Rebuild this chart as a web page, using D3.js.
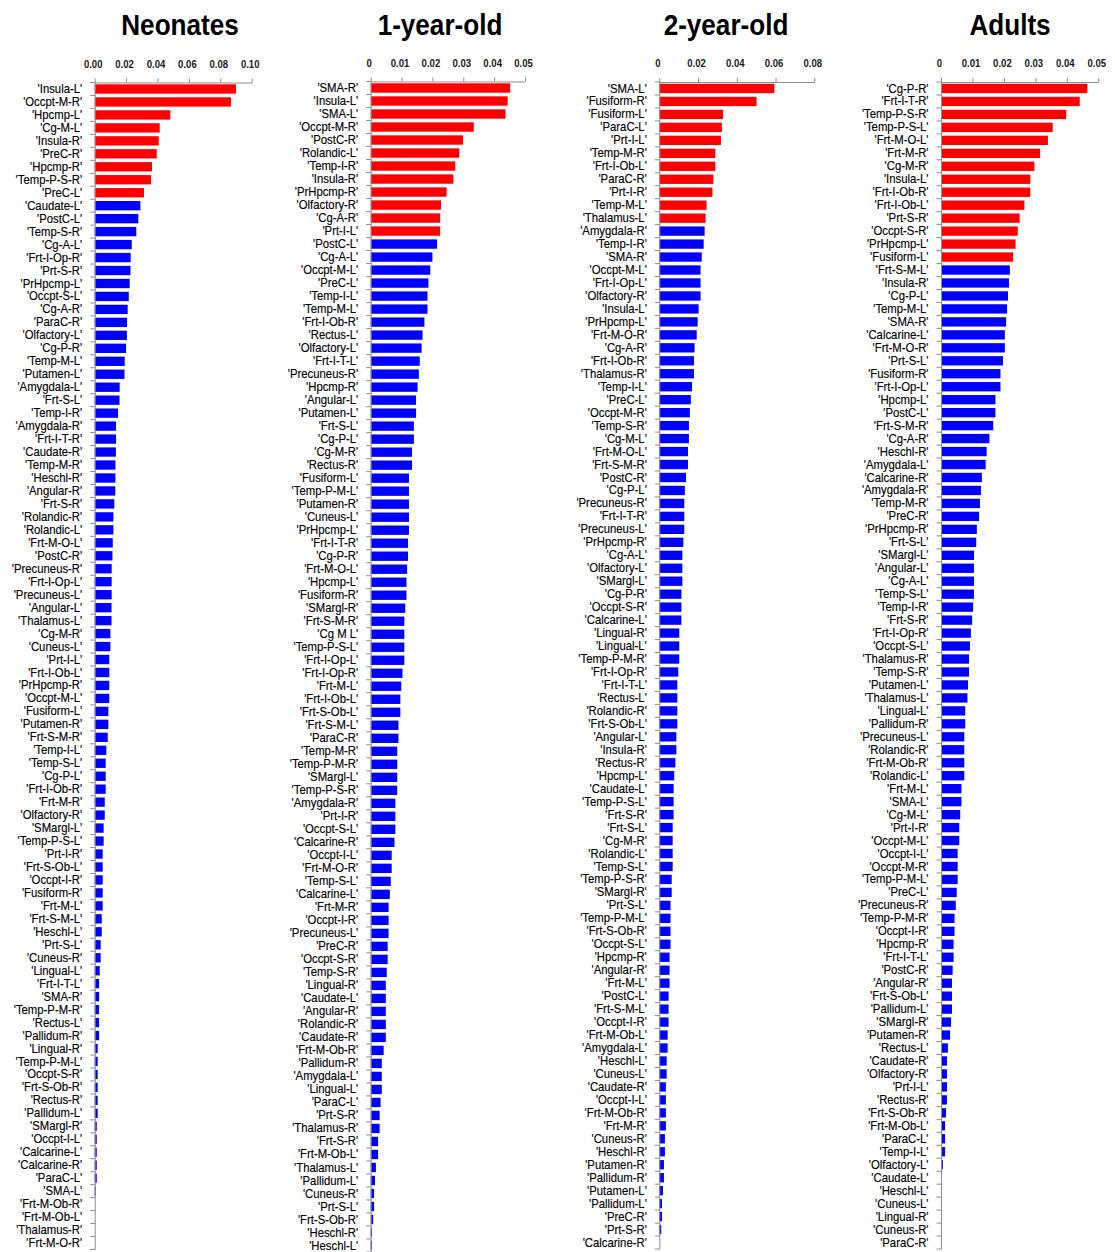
<!DOCTYPE html>
<html>
<head>
<meta charset="utf-8">
<script src="https://cdn.jsdelivr.net/npm/d3@7"></script>
<style>
  html, body { margin: 0; padding: 0; background: #fff; }
  svg { display: block; font-family: "Liberation Sans", Arial, sans-serif; }
</style>
</head>
<body>
<svg id="chart" width="1115" height="1252"></svg>
<script>
// Nodal importance per AAL region, four age groups, sorted descending.
// The first N regions of each group (N = *Highlighted) are drawn in red.

const neonatesRegions = ["Insula-L","Occpt-M-R","Hpcmp-L","Cg-M-L","Insula-R","PreC-R","Hpcmp-R","Temp-P-S-R","PreC-L","Caudate-L","PostC-L","Temp-S-R","Cg-A-L","Frt-I-Op-R","Prt-S-R","PrHpcmp-L","Occpt-S-L","Cg-A-R","ParaC-R","Olfactory-L","Cg-P-R","Temp-M-L","Putamen-L","Amygdala-L","Frt-S-L","Temp-I-R","Amygdala-R","Frt-I-T-R","Caudate-R","Temp-M-R","Heschl-R","Angular-R","Frt-S-R","Rolandic-R","Rolandic-L","Frt-M-O-L","PostC-R","Precuneus-R","Frt-I-Op-L","Precuneus-L","Angular-L","Thalamus-L","Cg-M-R","Cuneus-L","Prt-I-L","Frt-I-Ob-L","PrHpcmp-R","Occpt-M-L","Fusiform-L","Putamen-R","Frt-S-M-R","Temp-I-L","Temp-S-L","Cg-P-L","Frt-I-Ob-R","Frt-M-R","Olfactory-R","SMargl-L","Temp-P-S-L","Prt-I-R","Frt-S-Ob-L","Occpt-I-R","Fusiform-R","Frt-M-L","Frt-S-M-L","Heschl-L","Prt-S-L","Cuneus-R","Lingual-L","Frt-I-T-L","SMA-R","Temp-P-M-R","Rectus-L","Pallidum-R","Lingual-R","Temp-P-M-L","Occpt-S-R","Frt-S-Ob-R","Rectus-R","Pallidum-L","SMargl-R","Occpt-I-L","Calcarine-L","Calcarine-R","ParaC-L","SMA-L","Frt-M-Ob-R","Frt-M-Ob-L","Thalamus-R","Frt-M-O-R"];
const neonatesValues = [0.0900,0.0868,0.0482,0.0414,0.0408,0.0395,0.0365,0.0359,0.0314,0.0291,0.0278,0.0265,0.0236,0.0229,0.0228,0.0223,0.0217,0.0210,0.0206,0.0205,0.0200,0.0191,0.0190,0.0159,0.0158,0.0149,0.0136,0.0136,0.0135,0.0132,0.0132,0.0131,0.0125,0.0119,0.0119,0.0115,0.0113,0.0108,0.0108,0.0108,0.0107,0.0107,0.0100,0.0100,0.0093,0.0093,0.0093,0.0093,0.0087,0.0087,0.0083,0.0074,0.0070,0.0070,0.0070,0.0064,0.0064,0.0057,0.0057,0.0051,0.0051,0.0051,0.0051,0.0051,0.0045,0.0045,0.0038,0.0038,0.0032,0.0028,0.0028,0.0028,0.0028,0.0028,0.0019,0.0019,0.0019,0.0019,0.0019,0.0019,0.0013,0.0013,0.0013,0.0013,0.0013,0.0006,0,0,0,0];
const neonatesHighlighted = 9;
const neonatesTicks = [0, 0.02, 0.04, 0.06, 0.08, 0.10];
const neonatesTickLabels = ["0.00","0.02","0.04","0.06","0.08","0.10"];

const oneYearRegions = ["SMA-R","Insula-L","SMA-L","Occpt-M-R","PostC-R","Rolandic-L","Temp-I-R","Insula-R","PrHpcmp-R","Olfactory-R","Cg-A-R","Prt-I-L","PostC-L","Cg-A-L","Occpt-M-L","PreC-L","Temp-I-L","Temp-M-L","Frt-I-Ob-R","Rectus-L","Olfactory-L","Frt-I-T-L","Precuneus-R","Hpcmp-R","Angular-L","Putamen-L","Frt-S-L","Cg-P-L","Cg-M-R","Rectus-R","Fusiform-L","Temp-P-M-L","Putamen-R","Cuneus-L","PrHpcmp-L","Frt-I-T-R","Cg-P-R","Frt-M-O-L","Hpcmp-L","Fusiform-R","SMargl-R","Frt-S-M-R","Cg M L","Temp-P-S-L","Frt-I-Op-L","Frt-I-Op-R","Frt-M-L","Frt-I-Ob-L","Frt-S-Ob-L","Frt-S-M-L","ParaC-R","Temp-M-R","Temp-P-M-R","SMargl-L","Temp-P-S-R","Amygdala-R","Prt-I-R","Occpt-S-L","Calcarine-R","Occpt-I-L","Frt-M-O-R","Temp-S-L","Calcarine-L","Frt-M-R","Occpt-I-R","Precuneus-L","PreC-R","Occpt-S-R","Temp-S-R","Lingual-R","Caudate-L","Angular-R","Rolandic-R","Caudate-R","Frt-M-Ob-R","Pallidum-R","Amygdala-L","Lingual-L","ParaC-L","Prt-S-R","Thalamus-R","Frt-S-R","Frt-M-Ob-L","Thalamus-L","Pallidum-L","Cuneus-R","Prt-S-L","Frt-S-Ob-R","Heschl-R","Heschl-L"];
const oneYearValues = [0.0452,0.0444,0.0437,0.0334,0.0299,0.0287,0.0274,0.0268,0.0246,0.0228,0.0225,0.0225,0.0215,0.0200,0.0193,0.0187,0.0184,0.0184,0.0174,0.0168,0.0165,0.0159,0.0156,0.0152,0.0147,0.0147,0.0140,0.0140,0.0134,0.0134,0.0124,0.0124,0.0124,0.0124,0.0124,0.0121,0.0121,0.0118,0.0116,0.0116,0.0112,0.0109,0.0109,0.0109,0.0109,0.0103,0.0099,0.0096,0.0096,0.0090,0.0090,0.0086,0.0086,0.0086,0.0086,0.0080,0.0080,0.0080,0.0077,0.0068,0.0068,0.0065,0.0062,0.0058,0.0058,0.0058,0.0055,0.0055,0.0052,0.0049,0.0049,0.0049,0.0049,0.0049,0.0042,0.0036,0.0036,0.0036,0.0032,0.0029,0.0029,0.0024,0.0024,0.0017,0.0014,0.0011,0.0011,0.0008,0.0004,0.0004];
const oneYearHighlighted = 12;
const oneYearTicks = [0, 0.01, 0.02, 0.03, 0.04, 0.05];
const oneYearTickLabels = ["0","0.01","0.02","0.03","0.04","0.05"];

const twoYearRegions = ["SMA-L","Fusiform-R","Fusiform-L","ParaC-L","Prt-I-L","Temp-M-R","Frt-I-Ob-L","ParaC-R","Prt-I-R","Temp-M-L","Thalamus-L","Amygdala-R","Temp-I-R","SMA-R","Occpt-M-L","Frt-I-Op-L","Olfactory-R","Insula-L","PrHpcmp-L","Frt-M-O-R","Cg-A-R","Frt-I-Ob-R","Thalamus-R","Temp-I-L","PreC-L","Occpt-M-R","Temp-S-R","Cg-M-L","Frt-M-O-L","Frt-S-M-R","PostC-R","Cg-P-L","Precuneus-R","Frt-I-T-R","Precuneus-L","PrHpcmp-R","Cg-A-L","Olfactory-L","SMargl-L","Cg-P-R","Occpt-S-R","Calcarine-L","Lingual-R","Lingual-L","Temp-P-M-R","Frt-I-Op-R","Frt-I-T-L","Rectus-L","Rolandic-R","Frt-S-Ob-L","Angular-L","Insula-R","Rectus-R","Hpcmp-L","Caudate-L","Temp-P-S-L","Frt-S-R","Frt-S-L","Cg-M-R","Rolandic-L","Temp-S-L","Temp-P-S-R","SMargl-R","Prt-S-L","Temp-P-M-L","Frt-S-Ob-R","Occpt-S-L","Hpcmp-R","Angular-R","Frt-M-L","PostC-L","Frt-S-M-L","Occpt-I-R","Frt-M-Ob-L","Amygdala-L","Heschl-L","Cuneus-L","Caudate-R","Occpt-I-L","Frt-M-Ob-R","Frt-M-R","Cuneus-R","Heschl-R","Putamen-R","Pallidum-R","Putamen-L","Pallidum-L","PreC-R","Prt-S-R","Calcarine-R"];
const twoYearValues = [0.0594,0.0502,0.0329,0.0323,0.0318,0.0289,0.0289,0.0279,0.0274,0.0244,0.0239,0.0234,0.0229,0.0219,0.0213,0.0213,0.0213,0.0203,0.0198,0.0193,0.0182,0.0179,0.0179,0.0169,0.0163,0.0158,0.0153,0.0153,0.0148,0.0148,0.0138,0.0132,0.0129,0.0129,0.0129,0.0124,0.0119,0.0119,0.0119,0.0114,0.0114,0.0114,0.0103,0.0103,0.0103,0.0098,0.0093,0.0093,0.0093,0.0093,0.0088,0.0088,0.0083,0.0077,0.0074,0.0074,0.0074,0.0069,0.0069,0.0069,0.0069,0.0064,0.0064,0.0058,0.0058,0.0058,0.0058,0.0053,0.0053,0.0053,0.0048,0.0048,0.0048,0.0043,0.0043,0.0038,0.0038,0.0034,0.0034,0.0034,0.0034,0.0029,0.0029,0.0024,0.0024,0.0019,0.0014,0.0014,0.0010,0];
const twoYearHighlighted = 11;
const twoYearTicks = [0, 0.02, 0.04, 0.06, 0.08];
const twoYearTickLabels = ["0","0.02","0.04","0.06","0.08"];

const adultsRegions = ["Cg-P-R","Frt-I-T-R","Temp-P-S-R","Temp-P-S-L","Frt-M-O-L","Frt-M-R","Cg-M-R","Insula-L","Frt-I-Ob-R","Frt-I-Ob-L","Prt-S-R","Occpt-S-R","PrHpcmp-L","Fusiform-L","Frt-S-M-L","Insula-R","Cg-P-L","Temp-M-L","SMA-R","Calcarine-L","Frt-M-O-R","Prt-S-L","Fusiform-R","Frt-I-Op-L","Hpcmp-L","PostC-L","Frt-S-M-R","Cg-A-R","Heschl-R","Amygdala-L","Calcarine-R","Amygdala-R","Temp-M-R","PreC-R","PrHpcmp-R","Frt-S-L","SMargl-L","Angular-L","Cg-A-L","Temp-S-L","Temp-I-R","Frt-S-R","Frt-I-Op-R","Occpt-S-L","Thalamus-R","Temp-S-R","Putamen-L","Thalamus-L","Lingual-L","Pallidum-R","Precuneus-L","Rolandic-R","Frt-M-Ob-R","Rolandic-L","Frt-M-L","SMA-L","Cg-M-L","Prt-I-R","Occpt-M-L","Occpt-I-L","Occpt-M-R","Temp-P-M-L","PreC-L","Precuneus-R","Temp-P-M-R","Occpt-I-R","Hpcmp-R","Frt-I-T-L","PostC-R","Angular-R","Frt-S-Ob-L","Pallidum-L","SMargl-R","Putamen-R","Rectus-L","Caudate-R","Olfactory-R","Prt-I-L","Rectus-R","Frt-S-Ob-R","Frt-M-Ob-L","ParaC-L","Temp-I-L","Olfactory-L","Caudate-L","Heschl-L","Cuneus-L","Lingual-R","Cuneus-R","ParaC-R"];
const adultsValues = [0.0465,0.0441,0.0398,0.0355,0.0340,0.0315,0.0297,0.0284,0.0284,0.0265,0.0250,0.0244,0.0237,0.0229,0.0219,0.0216,0.0213,0.0210,0.0207,0.0203,0.0203,0.0197,0.0189,0.0189,0.0173,0.0173,0.0166,0.0154,0.0145,0.0142,0.0130,0.0127,0.0124,0.0121,0.0114,0.0112,0.0105,0.0105,0.0105,0.0105,0.0102,0.0099,0.0095,0.0092,0.0089,0.0089,0.0086,0.0084,0.0077,0.0077,0.0074,0.0074,0.0074,0.0074,0.0065,0.0065,0.0061,0.0058,0.0058,0.0053,0.0053,0.0053,0.0050,0.0047,0.0043,0.0043,0.0040,0.0040,0.0037,0.0035,0.0035,0.0035,0.0032,0.0029,0.0022,0.0019,0.0019,0.0019,0.0019,0.0016,0.0013,0.0013,0.0013,0.0006,0.0003,0.0003,0,0,0,0];
const adultsHighlighted = 14;
const adultsTicks = [0, 0.01, 0.02, 0.03, 0.04, 0.05];
const adultsTickLabels = ["0","0.01","0.02","0.03","0.04","0.05"];

// Panel layout (pixels)
const panels = [
  { title: "Neonates",   titleX: 180,  regions: neonatesRegions, values: neonatesValues, highlighted: neonatesHighlighted, ticks: neonatesTicks, tickLabels: neonatesTickLabels, max: 0.10, left: 94.7,  right: 251.7, top: 82.5, bottom: 1249.5 },
  { title: "1-year-old", titleX: 440,  regions: oneYearRegions,  values: oneYearValues,  highlighted: oneYearHighlighted,  ticks: oneYearTicks,  tickLabels: oneYearTickLabels,  max: 0.05, left: 370.7, right: 525.0, top: 81.5, bottom: 1252 },
  { title: "2-year-old", titleX: 726,  regions: twoYearRegions,  values: twoYearValues,  highlighted: twoYearHighlighted,  ticks: twoYearTicks,  tickLabels: twoYearTickLabels,  max: 0.08, left: 659.3, right: 814.3, top: 82,   bottom: 1249 },
  { title: "Adults",     titleX: 1010, regions: adultsRegions,   values: adultsValues,   highlighted: adultsHighlighted,   ticks: adultsTicks,   tickLabels: adultsTickLabels,   max: 0.05, left: 941.0, right: 1098.3, top: 82,  bottom: 1249 }
];

const svg = d3.select("#chart");
svg.append("rect").attr("width", 1115).attr("height", 1252).attr("fill", "#fff");

const AXIS_COLOR = "#8c8c8c";
const RED = "#ff0000", BLUE = "#0000ff";
const padInner = 0.28;

panels.forEach(p => {
  const g = svg.append("g");
  const rows = p.regions.map((r, i) => ({ region: r, value: p.values[i], idx: i }));

  const x = d3.scaleLinear().domain([0, p.max]).range([p.left, p.right]);
  const y = d3.scaleBand().domain(p.regions).range([p.top, p.bottom])
    .paddingInner(padInner).paddingOuter(padInner / 2);

  // Title
  g.append("text")
    .attr("transform", `translate(${p.titleX},35) scale(0.87,1)`)
    .attr("text-anchor", "middle")
    .attr("font-size", 30)
    .attr("font-weight", "bold")
    .attr("fill", "#000")
    .text(p.title);

  // Bars
  g.selectAll("rect.bar").data(rows).join("rect")
    .attr("class", "bar")
    .attr("x", x(0))
    .attr("y", d => y(d.region))
    .attr("width", d => x(d.value) - x(0))
    .attr("height", y.bandwidth())
    .attr("fill", d => d.idx < p.highlighted ? RED : BLUE);

  // Top value axis
  const top = g.append("g")
    .attr("transform", `translate(0,${p.top})`)
    .call(d3.axisTop(x).tickValues(p.ticks)
      .tickFormat((d, i) => p.tickLabels[i])
      .tickSizeInner(4).tickSizeOuter(0).tickPadding(11));
  top.select(".domain").attr("stroke", AXIS_COLOR);
  top.selectAll(".tick line").attr("stroke", AXIS_COLOR);
  top.selectAll(".tick text")
    .attr("font-size", 11)
    .attr("font-weight", "bold")
    .attr("fill", "#1a1a1a")
    .attr("font-family", "'Liberation Sans', Arial, sans-serif")
    .attr("transform", "translate(-2,0) scale(0.87,1)")
    .attr("x", 0);

  // Left category axis with labels; tick marks sit at band boundaries
  const leftAx = g.append("g")
    .attr("transform", `translate(${p.left},0)`)
    .call(d3.axisLeft(y).tickFormat(d => `'${d}'`).tickSize(0).tickPadding(0));
  leftAx.select(".domain").attr("stroke", AXIS_COLOR)
    .attr("d", `M0.5,${p.top}V${p.bottom}`);
  leftAx.selectAll(".tick text")
    .attr("x", 0)
    .attr("transform", "translate(-12.5,0) scale(0.9,1)")
    .attr("font-size", 12.6)
    .attr("fill", "#000")
    .attr("stroke", "#000")
    .attr("stroke-width", 0.15)
    .attr("font-family", "'Liberation Sans', Arial, sans-serif");

  const bounds = p.regions.map(r => y(r) - y.step() * padInner / 2).concat([p.bottom]);
  leftAx.selectAll("line.sep").data(bounds).join("line")
    .attr("class", "sep")
    .attr("x1", -4.5).attr("x2", 0.5)
    .attr("y1", d => d).attr("y2", d => d)
    .attr("stroke", AXIS_COLOR);
});
</script>
</body>
</html>
